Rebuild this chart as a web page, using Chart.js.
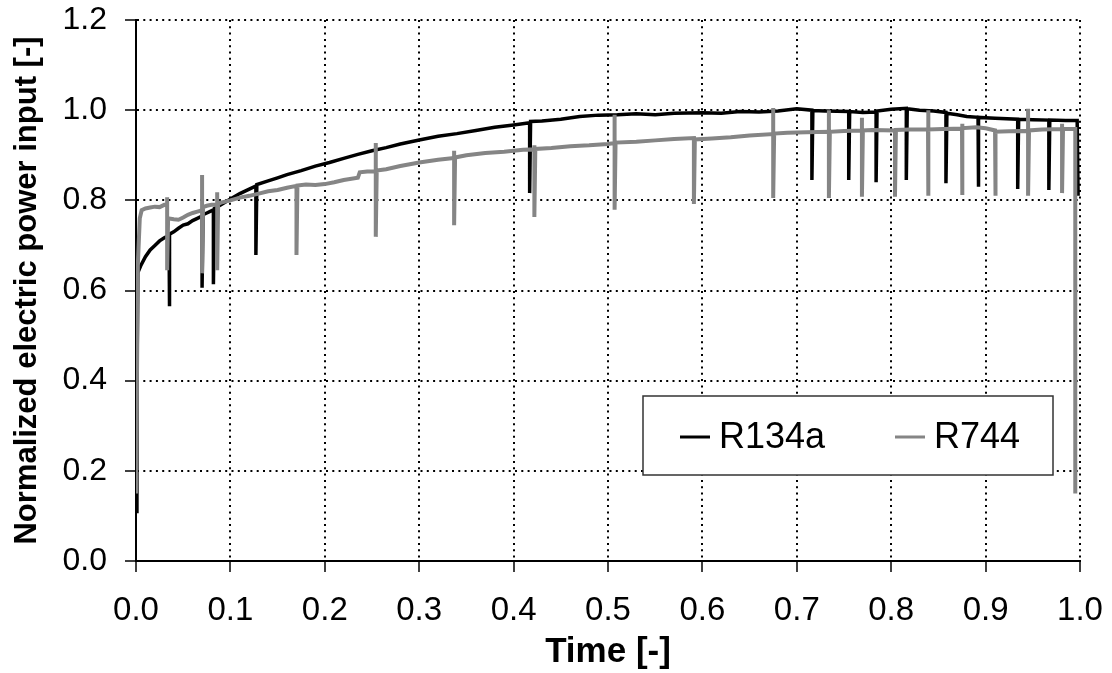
<!DOCTYPE html>
<html>
<head>
<meta charset="utf-8">
<script src="https://cdn.jsdelivr.net/npm/chart.js@4.4.1/dist/chart.umd.min.js"></script>
<style>
  html, body { margin: 0; padding: 0; background: #fff; }
  #wrap { width: 1112px; height: 673px; }
</style>
</head>
<body>
<div id="wrap"><canvas id="powerChart" width="1112" height="673"></canvas></div>
<script>
// Axis ticks
const xTicks = [0, 0.1, 0.2, 0.3, 0.4, 0.5, 0.6, 0.7, 0.8, 0.9, 1.0];
const yTicks = [0, 0.2, 0.4, 0.6, 0.8, 1.0, 1.2];

const r134aTime = [
  0, 0.001, 0.002, 0.005, 0.01, 0.015, 0.02, 0.025, 0.03,
  0.035, 0.035, 0.036, 0.04, 0.045, 0.05, 0.055, 0.06, 0.065,
  0.07, 0.07, 0.071, 0.075, 0.082, 0.082, 0.083, 0.09, 0.1, 0.11, 0.12,
  0.127, 0.127, 0.128, 0.14, 0.15, 0.16, 0.175, 0.19, 0.205, 0.22, 0.235,
  0.25, 0.265, 0.28, 0.3, 0.32, 0.34, 0.36, 0.38, 0.4,
  0.417, 0.417, 0.418, 0.43, 0.45, 0.47, 0.49, 0.51, 0.53, 0.55, 0.57,
  0.6, 0.62, 0.64, 0.66, 0.68, 0.7,
  0.716, 0.716, 0.717, 0.73, 0.755, 0.755, 0.756, 0.77,
  0.784, 0.784, 0.785, 0.8, 0.816, 0.816, 0.817, 0.83, 0.845,
  0.858, 0.858, 0.859, 0.87, 0.88, 0.892, 0.892, 0.893, 0.91,
  0.934, 0.934, 0.935, 0.95, 0.967, 0.967, 0.968, 0.985, 0.997, 0.998
];
const r134aPower = [
  0.11, 0.40, 0.64, 0.655, 0.675, 0.69, 0.70, 0.71, 0.717,
  0.722, 0.565, 0.725, 0.73, 0.738, 0.745, 0.748, 0.755, 0.76,
  0.765, 0.606, 0.768, 0.772, 0.779, 0.614, 0.782, 0.79, 0.803, 0.815, 0.825,
  0.832, 0.679, 0.835, 0.843, 0.85, 0.857, 0.866, 0.876, 0.884, 0.893, 0.902,
  0.91, 0.917, 0.925, 0.934, 0.942, 0.948, 0.955, 0.962, 0.967,
  0.972, 0.816, 0.975, 0.976, 0.98, 0.986, 0.989, 0.99, 0.992, 0.99, 0.993,
  0.994, 0.993, 0.997, 0.996, 0.998, 1.003,
  1.0, 0.845, 0.999, 0.998, 0.997, 0.845, 0.997, 0.995,
  0.996, 0.84, 0.998, 1.002, 1.004, 0.845, 1.003, 1.0, 0.998,
  0.995, 0.838, 0.993, 0.99, 0.986, 0.984, 0.83, 0.984, 0.982,
  0.98, 0.825, 0.98, 0.979, 0.978, 0.823, 0.978, 0.977, 0.977, 0.81
];

// R744 (grey) - spikes often overshoot upwards before the dip
const r744Time = [
  0, 0.002, 0.004, 0.006, 0.01, 0.015, 0.02, 0.025, 0.03,
  0.033, 0.033, 0.033, 0.034, 0.04, 0.045, 0.05, 0.055, 0.06, 0.065,
  0.07, 0.07, 0.07, 0.071, 0.075, 0.08,
  0.086, 0.086, 0.086, 0.087, 0.09, 0.1, 0.11, 0.12, 0.13, 0.14, 0.15, 0.16,
  0.17, 0.17, 0.171, 0.18, 0.19, 0.2, 0.21, 0.22, 0.235, 0.237, 0.245,
  0.254, 0.254, 0.254, 0.255, 0.265, 0.28, 0.3, 0.32,
  0.337, 0.337, 0.337, 0.338, 0.35, 0.37, 0.39, 0.41,
  0.422, 0.422, 0.422, 0.423, 0.44, 0.46, 0.48, 0.5,
  0.507, 0.507, 0.507, 0.508, 0.53, 0.55, 0.57,
  0.591, 0.591, 0.592, 0.61, 0.63, 0.65,
  0.675, 0.675, 0.675, 0.676, 0.69, 0.71,
  0.734, 0.734, 0.734, 0.735, 0.75,
  0.769, 0.769, 0.769, 0.770, 0.78,
  0.804, 0.804, 0.805, 0.82,
  0.839, 0.839, 0.839, 0.840, 0.855,
  0.875, 0.875, 0.875, 0.876, 0.89, 0.9,
  0.91, 0.91, 0.911, 0.925,
  0.945, 0.945, 0.945, 0.946, 0.96,
  0.981, 0.981, 0.981, 0.982, 0.993, 0.995, 0.995
];
const r744Power = [
  0.15, 0.66, 0.76, 0.778, 0.782, 0.784, 0.786, 0.785, 0.79,
  0.79, 0.807, 0.645, 0.76, 0.758, 0.757, 0.762, 0.768, 0.772, 0.775,
  0.778, 0.856, 0.638, 0.785, 0.788, 0.79,
  0.791, 0.818, 0.645, 0.792, 0.795, 0.80, 0.806, 0.81, 0.815, 0.82, 0.823, 0.828,
  0.832, 0.679, 0.833, 0.835, 0.834, 0.836, 0.84, 0.845, 0.85, 0.862, 0.864,
  0.864, 0.927, 0.719, 0.866, 0.869, 0.876, 0.884, 0.89,
  0.894, 0.91, 0.745, 0.895, 0.9, 0.905, 0.908, 0.912,
  0.913, 0.922, 0.763, 0.914, 0.916, 0.92, 0.922, 0.925,
  0.927, 0.99, 0.779, 0.928, 0.93, 0.933, 0.936,
  0.938, 0.792, 0.935, 0.937, 0.94, 0.944,
  0.947, 1.005, 0.805, 0.948, 0.95, 0.951,
  0.952, 1.0, 0.805, 0.952, 0.954,
  0.955, 0.983, 0.808, 0.955, 0.956,
  0.955, 0.808, 0.956, 0.957,
  0.957, 1.0, 0.81, 0.957, 0.958,
  0.959, 0.97, 0.812, 0.96, 0.962, 0.96,
  0.955, 0.81, 0.952, 0.953,
  0.954, 1.003, 0.81, 0.955, 0.957,
  0.958, 0.97, 0.816, 0.958, 0.958, 0.958, 0.15
];

const FONT = "'Liberation Sans', Arial, sans-serif";

function toPoints(xs, ys) {
  return xs.map((x, i) => ({ x: x, y: ys[i] }));
}

// legend drawn inside the plot, boxed like the original
const boxLegend = {
  id: 'boxLegend',
  afterDatasetsDraw(chart) {
    const ctx = chart.ctx;
    const ca = chart.chartArea;
    const left = ca.left + 507, top = ca.top + 376, w = 410, h = 79;
    ctx.save();
    ctx.fillStyle = '#fff';
    ctx.fillRect(left, top, w, h);
    ctx.strokeStyle = '#333';
    ctx.lineWidth = 1.5;
    ctx.strokeRect(left, top, w, h);
    ctx.font = '36px ' + FONT;
    ctx.textBaseline = 'middle';
    const offsets = [37, 252];
    chart.data.datasets.forEach((ds, i) => {
      const x0 = left + offsets[i];
      const y0 = top + 41;
      ctx.strokeStyle = ds.borderColor;
      ctx.lineWidth = 3;
      ctx.beginPath();
      ctx.moveTo(x0, y0);
      ctx.lineTo(x0 + 30, y0);
      ctx.stroke();
      ctx.fillStyle = '#000';
      ctx.fillText(ds.label, x0 + 39, y0 + 1);
    });
    ctx.restore();
  }
};

const gridCommon = {
  color: '#000',
  lineWidth: 2,
  tickLength: 11,
  tickColor: '#000',
  tickWidth: 1.5,
  tickBorderDash: []
};

new Chart(document.getElementById('powerChart'), {
  type: 'line',
  data: {
    datasets: [
      {
        label: 'R134a',
        data: toPoints(r134aTime, r134aPower),
        borderColor: '#000',
        borderWidth: 3.5,
        pointRadius: 0,
        tension: 0,
        order: 1
      },
      {
        label: 'R744',
        data: toPoints(r744Time, r744Power),
        borderColor: '#858585',
        borderWidth: 4,
        pointRadius: 0,
        tension: 0,
        order: 0
      }
    ]
  },
  options: {
    responsive: false,
    devicePixelRatio: 1,
    animation: false,
    layout: { padding: { top: 20, right: 32, bottom: 0, left: 0 } },
    plugins: { legend: { display: false }, tooltip: { enabled: false } },
    scales: {
      x: {
        type: 'linear',
        min: 0,
        max: 1,
        afterBuildTicks: s => { s.ticks = xTicks.map(v => ({ value: v })); },
        afterFit: s => { s.height = 112; s.paddingLeft = 0; s.paddingRight = 0; },
        grid: gridCommon,
        border: { display: true, color: '#000', width: 2, dash: [2, 4.3] },
        ticks: {
          color: '#000',
          padding: 19,
          maxRotation: 0,
          font: { family: FONT, size: 33 },
          callback: v => v.toFixed(1)
        },
        title: {
          display: true,
          text: 'Time [-]',
          color: '#000',
          padding: { top: 0, bottom: 0 },
          font: { family: FONT, size: 35, weight: 'bold' }
        }
      },
      y: {
        min: 0,
        max: 1.2,
        afterBuildTicks: s => { s.ticks = yTicks.map(v => ({ value: v })); },
        afterFit: s => { s.width = 136; s.paddingTop = 0; s.paddingBottom = 0; },
        grid: gridCommon,
        border: { display: true, color: '#000', width: 2, dash: [2, 4.3] },
        ticks: {
          color: '#000',
          padding: 18,
          font: { family: FONT, size: 32 },
          callback: v => v.toFixed(1)
        },
        title: {
          display: true,
          text: 'Normalized electric power input [-]',
          color: '#000',
          padding: { top: 9, bottom: 0 },
          font: { family: FONT, size: 31, weight: 'bold' }
        }
      }
    }
  },
  plugins: [boxLegend]
});
</script>
</body>
</html>
